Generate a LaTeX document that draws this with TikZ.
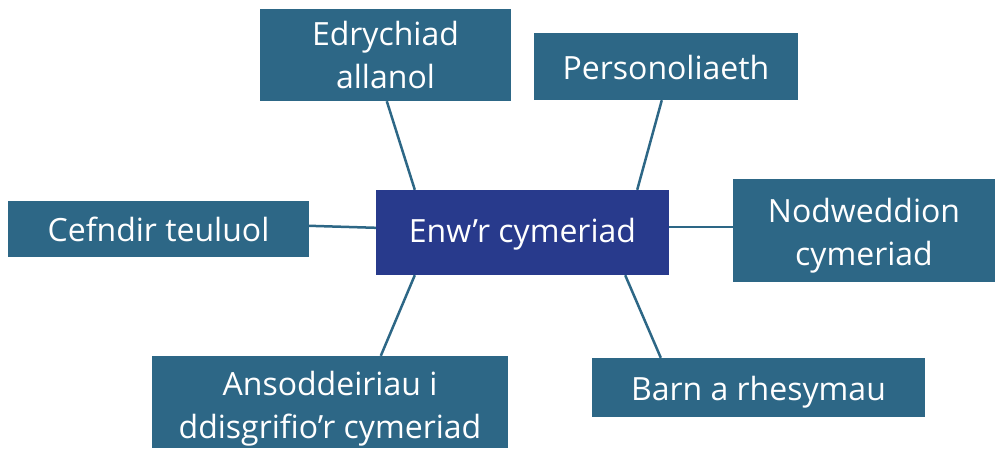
\documentclass[tikz,border=0pt]{standalone}
\usepackage{fontspec}
\setmainfont{Open Sans}
\definecolor{boxteal}{HTML}{2D6786}
\definecolor{boxnavy}{HTML}{283A8C}
\newcommand\lowertxt[2]{\raisebox{-#1pt}[\height][\depth]{#2}}
\begin{document}
\begin{tikzpicture}[x=1pt,y=1pt,
  topic/.style={fill=boxteal, text=white, inner sep=0pt, align=center,
    font=\fontsize{32}{43}\selectfont},
  hub/.style={topic, fill=boxnavy},
  link/.style={draw=boxteal, line width=2.5pt}]
\useasboundingbox (0,0) rectangle (995,448);
\node[hub, minimum width=293, minimum height=85] (cen) at (522.5,215.5) {\lowertxt{2}{Enw’r cymeriad}};
\node[topic, minimum width=251, minimum height=92] (edr) at (385.5,393) {Edrychiad\\allanol};
\node[topic, minimum width=264, minimum height=67] (pers) at (666,381.5) {\lowertxt{1}{Personoliaeth}};
\node[topic, minimum width=301, minimum height=56] (cef) at (158.5,219) {Cefndir teuluol};
\node[topic, minimum width=262, minimum height=103] (nod) at (864,217.5) {\lowertxt{5}{Nodweddion}\\\lowertxt{5}{cymeriad}};
\node[topic, minimum width=356, minimum height=92] (ans) at (330,46) {\lowertxt{7}{Ansoddeiriau i}\\\lowertxt{7}{ddisgrifio’r cymeriad}};
\node[topic, minimum width=333, minimum height=59] (barn) at (758.5,60.5) {\lowertxt{5}{Barn a rhesymau}};
\draw[link] ([xshift=127]edr.south west) -- ([xshift=39]cen.north west);
\draw[link] ([xshift=128]pers.south west) -- ([xshift=-32]cen.north east);
\draw[link] ([yshift=-25]cef.north east) -- ([yshift=-38]cen.north west);
\draw[link] ([yshift=-37]cen.north east) -- ([yshift=-48]nod.north west);
\draw[link] ([xshift=39]cen.south west) -- ([xshift=229]ans.north west);
\draw[link] ([xshift=-44]cen.south east) -- ([xshift=69]barn.north west);
\end{tikzpicture}
\end{document}
